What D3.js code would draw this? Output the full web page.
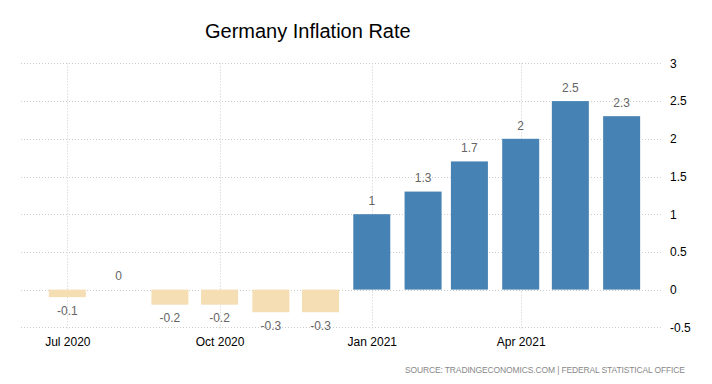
<!DOCTYPE html>
<html>
<head>
<meta charset="utf-8">
<script src="https://cdn.jsdelivr.net/npm/d3@7"></script>
<style>
  body { margin: 0; background: #fff; }
  text { font-family: "Liberation Sans", Arial, sans-serif; }
</style>
</head>
<body>
<div id="chart"></div>
<script>
// data
var months = ["2020-07-01", "2020-08-01", "2020-09-01", "2020-10-01", "2020-11-01", "2020-12-01",
              "2021-01-01", "2021-02-01", "2021-03-01", "2021-04-01", "2021-05-01", "2021-06-01"];
var values = [-0.1, 0, -0.2, -0.2, -0.3, -0.3, 1, 1.3, 1.7, 2, 2.5, 2.3];
var yTicks = [-0.5, 0, 0.5, 1, 1.5, 2, 2.5, 3];
var xTickDates = ["2020-07-01", "2020-10-01", "2021-01-01", "2021-04-01"];

var parse = d3.timeParse("%Y-%m-%d");
var data = months.map(function(m, i) { return {date: parse(m), value: values[i]}; });

// plot box (window.top is taken, so no plain "top")
var W = 712, H = 384;
var plotLeft = 21, plotRight = 663, plotTop = 63.4, plotBottom = 327.3;

var svg = d3.select("#chart").append("svg")
  .attr("width", W)
  .attr("height", H);

var x = d3.scaleTime()
  .domain([parse("2020-06-03"), parse("2021-06-26")])
  .range([plotLeft, plotRight]);

var y = d3.scaleLinear()
  .domain([-0.5, 3])
  .range([plotBottom, plotTop]);

// title
svg.append("text")
  .attr("x", 205)
  .attr("y", 38)
  .style("font-size", "20px")
  .style("fill", "#000")
  .text("Germany Inflation Rate");

// horizontal grid
svg.append("g")
  .selectAll("line")
  .data(yTicks)
  .enter()
  .append("line")
    .attr("x1", plotLeft)
    .attr("x2", plotRight)
    .attr("y1", function(d) { return Math.round(y(d)) + 0.5; })
    .attr("y2", function(d) { return Math.round(y(d)) + 0.5; })
    .attr("stroke", "#ccc")
    .attr("stroke-dasharray", "1,2");

// vertical grid
svg.append("g")
  .selectAll("line")
  .data(xTickDates)
  .enter()
  .append("line")
    .attr("x1", function(d) { return Math.round(x(parse(d))) + 0.5; })
    .attr("x2", function(d) { return Math.round(x(parse(d))) + 0.5; })
    .attr("y1", plotTop)
    .attr("y2", plotBottom + 3)
    .attr("stroke", "#ccc")
    .attr("stroke-dasharray", "1,2");

// y axis (right)
var yAxis = svg.append("g")
  .attr("transform", "translate(" + plotRight + ",0)")
  .call(d3.axisRight(y).tickValues(yTicks).tickSize(0).tickPadding(7).tickFormat(function(d) { return d; }));
yAxis.select(".domain").remove();
yAxis.selectAll("text")
  .style("font-family", "Liberation Sans, Arial, sans-serif")
  .style("font-size", "12px")
  .style("fill", "#000");

// x axis
var xAxis = svg.append("g")
  .attr("transform", "translate(0," + plotBottom + ")")
  .call(d3.axisBottom(x).tickValues(xTickDates.map(parse)).tickSize(0).tickPadding(10).tickFormat(d3.timeFormat("%b %Y")));
xAxis.select(".domain").remove();
xAxis.selectAll("text")
  .style("font-family", "Liberation Sans, Arial, sans-serif")
  .style("font-size", "12px")
  .style("fill", "#000");

// bars
var barW = 37;
svg.append("g")
  .selectAll("rect")
  .data(data)
  .enter()
  .append("rect")
    .attr("x", function(d) { return x(d.date) - barW / 2; })
    .attr("y", function(d) { return y(Math.max(0, d.value)); })
    .attr("width", barW)
    .attr("height", function(d) { return Math.abs(y(d.value) - y(0)); })
    .style("fill", function(d) { return d.value >= 0 ? "#4682b4" : "#f5deb3"; });

// value labels
svg.append("g")
  .selectAll("text")
  .data(data)
  .enter()
  .append("text")
    .attr("x", function(d) { return x(d.date); })
    .attr("y", function(d) { return d.value >= 0 ? y(d.value) - 13.5 : y(d.value) + 13.5; })
    .attr("dy", "0.35em")
    .attr("text-anchor", "middle")
    .style("font-size", "12px")
    .style("fill", "#666")
    .text(function(d) { return d.value; });

// source
svg.append("text")
  .attr("x", 685)
  .attr("y", 372.5)
  .attr("text-anchor", "end")
  .attr("textLength", 280)
  .style("font-size", "8.5px")
  .style("fill", "#888")
  .text("SOURCE: TRADINGECONOMICS.COM  |  FEDERAL STATISTICAL OFFICE");
</script>
</body>
</html>
